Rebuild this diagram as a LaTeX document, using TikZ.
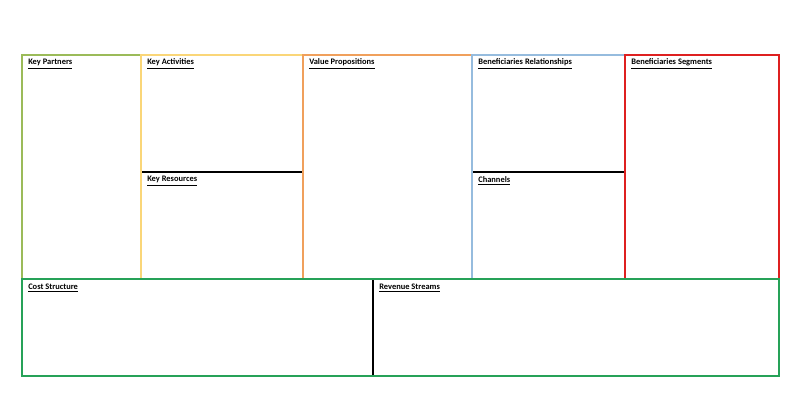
\documentclass[tikz,border=0pt]{standalone}
\usepackage{fontspec}
\setmainfont{Carlito}
\usepackage{tikz}

\definecolor{partnercol}{RGB}{155,187,89}
\definecolor{activitycol}{RGB}{250,214,120}
\definecolor{valuecol}{RGB}{240,160,92}
\definecolor{relationcol}{RGB}{150,188,222}
\definecolor{segmentcol}{RGB}{222,32,32}
\definecolor{costcol}{RGB}{38,162,88}

\tikzset{
    blocklabel/.style={anchor=west, inner sep=0pt, font=\fontsize{6}{7}\selectfont\bfseries},
    blockedge/.style={line width=1.7pt},
    splitedge/.style={line width=1pt, draw=black}
}

\newcommand{\blocktitle}[1]{\underline{#1}}

\begin{document}
\begin{tikzpicture}[x=0.025cm, y=-0.025cm]
    \useasboundingbox (0,0) rectangle (800,400);

    %%  Top row of the canvas
    % Key Partners
    \draw [blockedge, draw=partnercol] (22,55) rectangle (141,279);
    % Key Activities / Key Resources
    \draw [blockedge, draw=activitycol] (141,55) rectangle (303,279);
    \draw [splitedge] (142,172) -- (302,172);
    % Value Propositions
    \draw [blockedge, draw=valuecol] (303,55) rectangle (472,279);
    % Beneficiaries Relationships / Channels
    \draw [blockedge, draw=relationcol] (472,55) rectangle (625,279);
    \draw [splitedge] (473,172) -- (624,172);
    % Beneficiaries Segments
    \draw [blockedge, draw=segmentcol] (625,55) rectangle (779,279);

    %%  Bottom row of the canvas
    \draw [blockedge, draw=costcol] (22,279) rectangle (779,376);
    \draw [splitedge] (373,280) -- (373,375);

    % Block titles
    \node [blocklabel] (partners) at (28,64) {\blocktitle{Key Partners}};
    \node [blocklabel] (activities) at (147,64) {\blocktitle{Key Activities}};
    \node [blocklabel] (resources) at (147,181) {\blocktitle{Key Resources}};
    \node [blocklabel] (value) at (309,64) {\blocktitle{Value Propositions}};
    \node [blocklabel] (relations) at (478,64) {\blocktitle{Beneficiaries Relationships}};
    \node [blocklabel] (channels) at (478,181) {\blocktitle{Channels}};
    \node [blocklabel] (segments) at (631,64) {\blocktitle{Beneficiaries Segments}};
    \node [blocklabel] (cost) at (28,288) {\blocktitle{Cost Structure}};
    \node [blocklabel] (revenue) at (379,288) {\blocktitle{Revenue Streams}};

\end{tikzpicture}
\end{document}
